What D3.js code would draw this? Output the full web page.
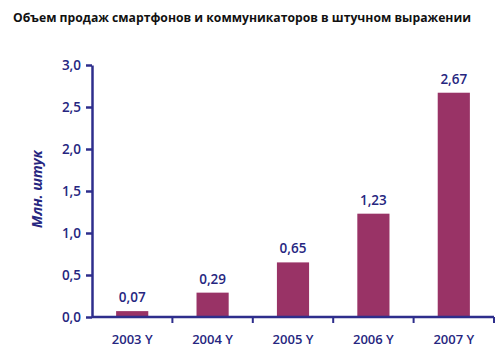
<!DOCTYPE html>
<html>
<meta charset="utf-8">
<script src="https://d3js.org/d3.v7.min.js"></script>
<style>
    body { margin: 0; background: #fff; }
    text { font-family: "Open Sans", sans-serif; }
</style>
<body>
<svg width="500" height="354"></svg>
<script>
    const years = ["2003 Y", "2004 Y", "2005 Y", "2006 Y", "2007 Y"];
    const sales = [0.07, 0.29, 0.65, 1.23, 2.67];
    const yTicks = [0, 0.5, 1, 1.5, 2, 2.5, 3];

    const axisColor = "#2E2E8C",
        textColor = "#262680",
        barColor = "#993366";

    let svg = d3.select("svg"),
        margin = { top: 65, right: 6, bottom: 37, left: 92 },
        width = +svg.attr("width") - margin.left - margin.right,
        height = +svg.attr("height") - margin.top - margin.bottom;

    const fmt = v => d3.format(".1f")(v).replace(".", ",");
    const fmt2 = v => d3.format(".2f")(v).replace(".", ",");

    svg.append("text")
        .attr("x", 13).attr("y", 22)
        .attr("font-size", 12.5).attr("font-weight", "bold").attr("fill", "#111")
        .attr("textLength", 458).attr("lengthAdjust", "spacingAndGlyphs")
        .text("Объем продаж смартфонов и коммуникаторов в штучном выражении");

    let x = d3.scaleBand().domain(years).range([0, width]).paddingInner(0.6).paddingOuter(0.3);
    let y = d3.scaleLinear().domain([0, 3]).range([height, 0]);

    let g = svg.append("g").attr("transform", `translate(${margin.left},${margin.top})`);

    // bars
    g.selectAll("rect.bar")
        .data(sales)
        .enter().append("rect")
        .attr("class", "bar")
        .attr("x", (d, i) => x(years[i]))
        .attr("y", d => y(d))
        .attr("width", x.bandwidth())
        .attr("height", d => height - y(d))
        .style("fill", barColor);

    // value labels
    g.selectAll("text.val")
        .data(sales)
        .enter().append("text")
        .attr("class", "val")
        .attr("x", (d, i) => x(years[i]) + x.bandwidth() / 2)
        .attr("y", d => y(d) - 9)
        .attr("text-anchor", "middle")
        .attr("font-size", 13.5).attr("font-weight", 600).attr("fill", textColor)
        .text(fmt2);

    // y axis
    let yAxis = d3.axisLeft(y).tickValues(yTicks).tickFormat(fmt).tickSizeInner(6).tickSizeOuter(0).tickPadding(5);
    let ya = g.append("g").call(yAxis);
    ya.select(".domain").attr("stroke", axisColor).attr("stroke-width", 2.5);
    ya.selectAll(".tick line").attr("stroke", axisColor).attr("stroke-width", 2.5);
    ya.selectAll(".tick text").attr("fill", textColor).attr("font-size", 13.5)
        .attr("font-weight", 600)
        .style("font-family", '"Open Sans", sans-serif');

    // x axis with ticks between bands
    let xb = d3.scaleLinear().domain([0, years.length]).range([0, width]);
    let xa = g.append("g").attr("transform", `translate(0,${height})`);
    xa.append("line").attr("x1", 0).attr("x2", width)
        .attr("stroke", axisColor).attr("stroke-width", 2.5);
    xa.selectAll("line.sep")
        .data(d3.range(1, years.length + 1))
        .enter().append("line")
        .attr("class", "sep")
        .attr("x1", d => xb(d)).attr("x2", d => xb(d))
        .attr("y1", 0).attr("y2", 6)
        .attr("stroke", axisColor).attr("stroke-width", 2);
    xa.selectAll("text")
        .data(years)
        .enter().append("text")
        .attr("x", d => x(d) + x.bandwidth() / 2)
        .attr("y", 27)
        .attr("text-anchor", "middle")
        .attr("font-size", 13).attr("font-weight", 600).attr("fill", textColor)
        .text(d => d);

    // y label
    svg.append("text")
        .attr("transform", `translate(42,${margin.top + height / 2 - 2}) rotate(-90)`)
        .attr("text-anchor", "middle")
        .attr("font-size", 14).attr("font-weight", "bold").attr("font-style", "italic")
        .attr("fill", textColor)
        .text("Млн. штук");
</script>
</body>
</html>
